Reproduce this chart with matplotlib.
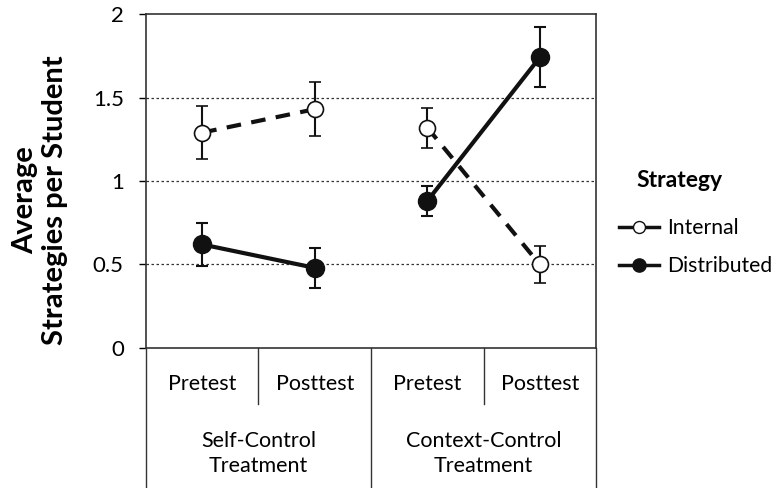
import matplotlib.pyplot as plt
from matplotlib.lines import Line2D
from matplotlib import transforms

plt.rcParams['font.family'] = ['Lato', 'DejaVu Sans']

phases = ['Pretest', 'Posttest', 'Pretest', 'Posttest']
groups = ['Self-Control\nTreatment', 'Context-Control\nTreatment']
internal = [1.29, 1.43, 1.32, 0.50]
internal_err = [0.16, 0.16, 0.12, 0.11]
distributed = [0.62, 0.48, 0.88, 1.74]
distributed_err = [0.13, 0.12, 0.09, 0.18]

fig = plt.figure(figsize=(7.79, 4.88), dpi=100)
ax = fig.add_axes([0.1874, 0.2869, 0.5777, 0.6844])

x = list(range(len(phases)))
for g in range(2):
    i = slice(2 * g, 2 * g + 2)
    ax.errorbar(x[i], internal[i], yerr=internal_err[i], color='#111111', lw=3,
                ls=(0, (3.5, 2.5)), marker='o', ms=11.5, mfc='white', mec='#111111',
                mew=1.2, ecolor='#111111', elinewidth=1.5, capsize=4, capthick=1.5, zorder=3)
    ax.errorbar(x[i], distributed[i], yerr=distributed_err[i], color='#111111', lw=3,
                ls='-', marker='o', ms=13, mfc='#111111', mec='#111111',
                ecolor='#111111', elinewidth=1.5, capsize=4, capthick=1.5, zorder=3)

ax.set_xlim(-0.5, len(phases) - 0.5)
ax.set_ylim(0, 2)
ax.set_yticks([0, 0.5, 1, 1.5, 2])
ax.set_yticklabels(['0', '0.5', '1', '1.5', '2'], fontsize=16)
ax.tick_params(axis='y', direction='out', length=5, width=1, pad=11)
ax.set_xticks([])
for y in [0.5, 1, 1.5]:
    ax.axhline(y, color='#333333', lw=0.9, ls=(0, (2, 2)), zorder=1)
for s in ax.spines.values():
    s.set_color('#333333')
    s.set_linewidth(1.2)

# category boxes below the axis
trans = transforms.blended_transform_factory(ax.transData, ax.transAxes)
for b in [-0.5, 1.5, 3.5]:
    ax.plot([b, b], [0, -0.42], transform=trans, color='#333333', lw=1, clip_on=False)
for b in [0.5, 2.5]:
    ax.plot([b, b], [0, -0.168], transform=trans, color='#333333', lw=1, clip_on=False)
for xi, p in zip(x, phases):
    ax.text(xi, -0.108, p, transform=trans, ha='center', va='center', fontsize=15.5)
for g, name in enumerate(groups):
    ax.text(2 * g + 0.5, -0.317, name, transform=trans, ha='center', va='center',
            fontsize=15.5, linespacing=1.3)

fig.text(40 / 779, 1 - 200 / 488, 'Average\nStrategies per Student', fontsize=21,
         fontweight='bold', rotation=90, ha='center', va='center', linespacing=1.15)

handles = [
    Line2D([], [], color='#111111', lw=2.5, marker='o', ms=8.6, mfc='white', mec='#111111'),
    Line2D([], [], color='#111111', lw=2.5, marker='o', ms=9.5, mfc='#111111', mec='#111111'),
]
fig.legend(handles, ['Internal', 'Distributed'], loc='upper left',
           bbox_to_anchor=(619 / 779, 1 - 218 / 488), frameon=False, fontsize=15.2,
           borderpad=0, borderaxespad=0, handlelength=1.9, handletextpad=0.4,
           labelspacing=0.85)
fig.text(636 / 779, 1 - 180 / 488, 'Strategy', fontsize=16.5, fontweight='bold',
         ha='left', va='center')

fig.savefig('out.png', dpi=100)
